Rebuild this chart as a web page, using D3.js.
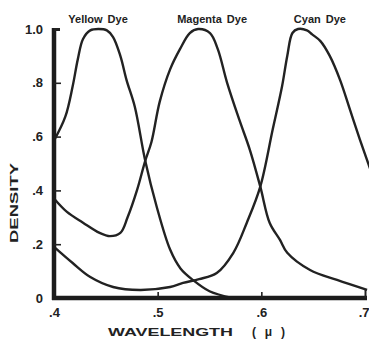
<!DOCTYPE html>
<html>
<head>
<meta charset="utf-8">
<script src="https://cdn.jsdelivr.net/npm/d3@7/dist/d3.min.js"></script>
<style>
  body { margin: 0; background: #fff; }
  svg { display: block; font-family: 'Liberation Sans', Arial, sans-serif; }
  .axis text { font-size: 13px; font-weight: bold; fill: #222; }
  .axis .tick line { stroke: #222; stroke-width: 1.6; }
  .axis .domain { stroke: #1c1c1c; stroke-width: 4.5; }
  .dye { fill: none; stroke: #222; stroke-width: 2.4; stroke-linejoin: round; }
  .dye-label { font-size: 11px; font-weight: bold; fill: #222; word-spacing: 2px; }
  .title { font-size: 10px; font-weight: bold; fill: #222; }
</style>
</head>
<body>
<div id="chart"></div>
<script>
const xTicks = [0.4, 0.5, 0.6, 0.7];
const xTickLabels = ['.4', '.5', '.6', '.7'];
const yTicks = [0, 0.2, 0.4, 0.6, 0.8, 1.0];
const yTickLabels = ['0', '.2', '.4', '.6', '.8', '1.0'];

const dyeNames = ['Yellow Dye', 'Magenta Dye', 'Cyan Dye'];
const labelWavelengths = [0.4425, 0.5525, 0.6565];

const yellowW = [.400, .411, .418, .423, .428, .435, .443, .451, .457, .464, .470, .478, .488, .499, .512, .522, .534, .550, .572];
const yellowD = [.585, .675, .787, .888, .963, .995, 1.0, .995, .97, .90, .81, .71, .51, .34, .18, .11, .067, .025, .0];

const magentaW = [.400, .4125, .428, .444, .454, .464, .471, .480, .488, .494, .502, .512, .5215, .531, .539, .5505, .558, .567, .579, .589, .599, .608, .618, .625, .647, .673, .702];
const magentaD = [.37, .32, .28, .242, .23, .242, .30, .40, .51, .58, .73, .85, .925, .985, 1.0, .985, .925, .80, .66, .55, .414, .28, .216, .168, .104, .067, .03];

const cyanW = [.400, .418, .435, .457, .483, .512, .5245, .540, .557, .573, .586, .599, .611, .620, .625, .630, .6354, .644, .649, .657, .666, .676, .6855, .695, .705];
const cyanD = [.19, .13, .078, .041, .03, .041, .056, .07, .093, .168, .28, .414, .627, .787, .90, .985, 1.0, .995, .98, .955, .90, .81, .70, .59, .48];

const width = 369, height = 339;

const x = d3.scaleLinear()
    .domain([0.4, 0.7])
    .range([54, 365]);

const y = d3.scaleLinear()
    .domain([0, 1])
    .range([298, 29]);

const svg = d3.select('#chart').append('svg')
    .attr('width', width)
    .attr('height', height);

const dyes = [
    {name: dyeNames[0], values: yellowW.map((w, i) => ({w, d: yellowD[i]}))},
    {name: dyeNames[1], values: magentaW.map((w, i) => ({w, d: magentaD[i]}))},
    {name: dyeNames[2], values: cyanW.map((w, i) => ({w, d: cyanD[i]}))}
];

const line = d3.line()
    .x(d => x(d.w))
    .y(d => y(d.d))
    .curve(d3.curveCatmullRom.alpha(0.5));

svg.selectAll('.dye')
    .data(dyes)
  .enter().append('path')
    .attr('class', 'dye')
    .attr('d', d => line(d.values));

svg.selectAll('.dye-label')
    .data(dyes)
  .enter().append('text')
    .attr('class', 'dye-label')
    .attr('x', (d, i) => x(labelWavelengths[i]))
    .attr('y', 23)
    .attr('text-anchor', 'middle')
    .text(d => d.name);

// axes: ticks point inward like the original plot
const xAxis = d3.axisBottom(x)
    .tickValues(xTicks)
    .tickFormat((d, i) => xTickLabels[i])
    .tickSize(-6)
    .tickSizeOuter(0)
    .tickPadding(10);

const yAxis = d3.axisLeft(y)
    .tickValues(yTicks)
    .tickFormat((d, i) => yTickLabels[i])
    .tickSize(-7)
    .tickSizeOuter(0)
    .tickPadding(11);

const gx = svg.append('g')
    .attr('class', 'axis axis--x')
    .attr('transform', `translate(0,${y(0)})`)
    .call(xAxis);
gx.select('.domain').attr('d', `M${x(0.4) - 2},0H${x(0.7) + 2}`);
gx.selectAll('.tick').filter(d => d === 0.4).select('line').remove();
gx.selectAll('.tick').filter(d => d === 0.7).select('line')
    .attr('y2', -9).style('stroke-width', 2);
// last label sits on the right edge, keep it inside the page
gx.selectAll('.tick').filter(d => d === 0.7).select('text')
    .attr('text-anchor', 'end').attr('x', 4);

const gy = svg.append('g')
    .attr('class', 'axis axis--y')
    .attr('transform', `translate(${x(0.4)},0)`)
    .call(yAxis);
gy.select('.domain').attr('d', `M0,${y(0) + 2}V${y(1) - 1}`);
gy.selectAll('.tick').filter(d => d === 0).select('line').remove();
gy.selectAll('.tick').filter(d => d === 1).select('line')
    .style('stroke-width', 3).attr('x2', 6);

svg.append('text')
    .attr('class', 'title')
    .attr('x', 108)
    .attr('y', 336)
    .attr('textLength', 125)
    .attr('lengthAdjust', 'spacingAndGlyphs')
    .text('WAVELENGTH');

svg.append('text')
    .attr('class', 'title')
    .attr('x', 252)
    .attr('y', 336)
    .attr('textLength', 33)
    .attr('lengthAdjust', 'spacing')
    .style('font-size', '12px')
    .text('( μ )');

svg.append('text')
    .attr('class', 'title')
    .attr('transform', 'translate(17.5,243) rotate(-90)')
    .attr('textLength', 80)
    .attr('lengthAdjust', 'spacingAndGlyphs')
    .text('DENSITY');
</script>
</body>
</html>
